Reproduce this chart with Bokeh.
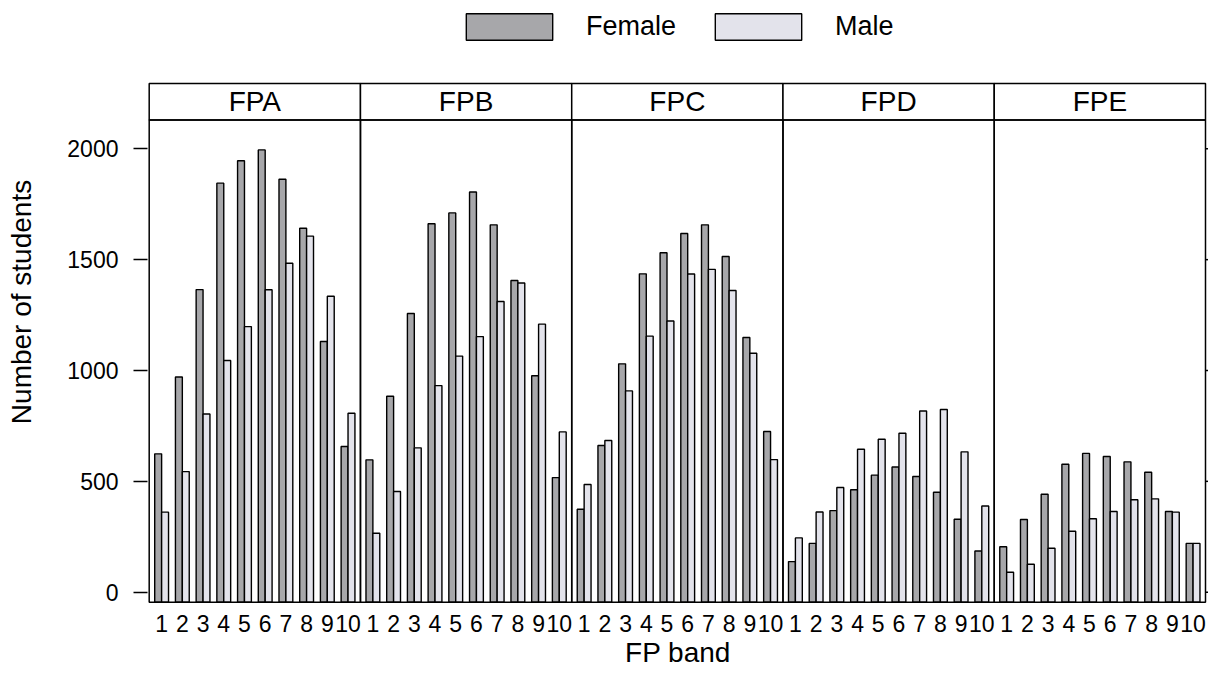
from bokeh.plotting import figure
from bokeh.models import ColumnDataSource, FixedTicker, Legend, LegendItem, Range1d
from bokeh.embed import file_html
from bokeh.resources import INLINE
from bokeh.core.properties import value

# ---------------- data ----------------
panels = ["FPA", "FPB", "FPC", "FPD", "FPE"]
bands = [1, 2, 3, 4, 5, 6, 7, 8, 9, 10]
band_labels = ["1", "2", "3", "4", "5", "6", "7", "8", "9", "10"]

female_fpa = [624, 971, 1365, 1845, 1946, 1995, 1863, 1642, 1131, 657]
male_fpa = [361, 544, 804, 1045, 1198, 1364, 1484, 1606, 1335, 807]
female_fpb = [597, 884, 1257, 1662, 1711, 1805, 1657, 1406, 976, 517]
male_fpb = [266, 454, 651, 932, 1065, 1153, 1311, 1395, 1209, 723]
female_fpc = [374, 662, 1030, 1436, 1531, 1618, 1657, 1514, 1149, 725]
male_fpc = [486, 684, 908, 1155, 1223, 1435, 1456, 1361, 1078, 598]
female_fpd = [138, 220, 368, 462, 528, 565, 522, 451, 329, 186]
male_fpd = [245, 362, 472, 645, 690, 717, 817, 824, 633, 389]
female_fpe = [205, 328, 442, 577, 626, 612, 588, 541, 364, 220]
male_fpe = [90, 126, 198, 275, 331, 364, 417, 421, 361, 220]

y_ticks = [0, 500, 1000, 1500, 2000]

female_by_panel = [female_fpa, female_fpb, female_fpc, female_fpd, female_fpe]
male_by_panel = [male_fpa, male_fpb, male_fpc, male_fpd, male_fpe]

# ---------------- layout constants ----------------
FONT = "Liberation Sans"
PANEL_PAD = 0.6                      # lattice factor padding
PANEL_W = len(bands) - 1 + 2 * PANEL_PAD
X_LO = 1 - PANEL_PAD - 0.082
X_PANELS_HI = 1 - PANEL_PAD + PANEL_W * len(panels)
X_HI = X_PANELS_HI + 0.145
Y_LO = -51.0
Y_PANEL_LO = -45.0
Y_STRIP_LO = 2130.0
Y_STRIP_HI = 2294.5
Y_HI = 2669.0
BAR_W = 1.0 / 3.0
F_COL = "#A7A7AA"
M_COL = "#E3E3EB"

# ---------------- build sources ----------------
fx, ftop, mx, mtop = [], [], [], []
xticks, overrides = [], {}
for k, name in enumerate(panels):
    off = k * PANEL_W
    for i, b in enumerate(bands):
        c = round(off + b, 6)
        xticks.append(c)
        overrides[c] = band_labels[i]
        fx.append(c - BAR_W / 2)
        ftop.append(female_by_panel[k][i])
        mx.append(c + BAR_W / 2)
        mtop.append(male_by_panel[k][i])

src_f = ColumnDataSource(dict(x=fx, top=ftop))
src_m = ColumnDataSource(dict(x=mx, top=mtop))

p = figure(width=1208, height=688, output_backend="svg", toolbar_location=None,
           x_range=Range1d(X_LO, X_HI), y_range=Range1d(Y_LO, Y_HI),
           min_border_left=147, min_border_right=0, min_border_top=0,
           min_border_bottom=85)
p.grid.visible = False
p.outline_line_color = None
p.background_fill_color = "white"
p.border_fill_color = "white"

# panels and strips
pan_left = [k * PANEL_W + 1 - PANEL_PAD for k in range(len(panels))]
pan_right = [l + PANEL_W for l in pan_left]
pan_mid = [(l + r) / 2 for l, r in zip(pan_left, pan_right)]
p.quad(left=pan_left, right=pan_right, bottom=Y_STRIP_LO, top=Y_STRIP_HI,
       fill_color="white", line_color="black", line_width=1.5)
p.text(x=pan_mid, y=[(Y_STRIP_LO + Y_STRIP_HI) / 2] * len(panels), text=panels,
       text_font=value(FONT), text_font_size="28px", text_align="center",
       text_baseline="middle", text_color="black")

rf = p.vbar(x="x", top="top", bottom=Y_PANEL_LO, width=BAR_W, source=src_f,
            fill_color=F_COL, line_color="black", line_width=1.4)
rm = p.vbar(x="x", top="top", bottom=Y_PANEL_LO, width=BAR_W, source=src_m,
            fill_color=M_COL, line_color="black", line_width=1.4)

p.quad(left=pan_left, right=pan_right, bottom=Y_PANEL_LO, top=Y_STRIP_LO,
       fill_color=None, line_color="black", line_width=1.5)

# right-hand tick marks (lattice draws unlabelled ticks on the right side)
p.segment(x0=[X_PANELS_HI] * len(y_ticks), x1=[X_HI] * len(y_ticks),
          y0=y_ticks, y1=y_ticks, line_color="black", line_width=1.5)

# axes
ya = p.yaxis[0]
ya.ticker = FixedTicker(ticks=y_ticks)
ya.axis_line_color = None
ya.major_tick_out = 14
ya.major_tick_in = 0
ya.major_tick_line_width = 1.5
ya.minor_tick_line_color = None
ya.major_label_standoff = 15
ya.major_label_text_font = FONT
ya.major_label_text_font_size = "23px"
ya.major_label_text_color = "black"
ya.axis_label = "Number of students"
ya.axis_label_text_font = FONT
ya.axis_label_text_font_size = "28px"
ya.axis_label_text_font_style = "normal"
ya.axis_label_text_color = "black"
ya.axis_label_standoff = 27

xa = p.xaxis[0]
xa.ticker = FixedTicker(ticks=xticks)
xa.major_label_overrides = overrides
xa.axis_line_color = None
xa.major_tick_out = 0
xa.major_tick_in = 0
xa.minor_tick_line_color = None
xa.major_label_standoff = 11
xa.major_label_text_font = FONT
xa.major_label_text_font_size = "23px"
xa.major_label_text_color = "black"
xa.axis_label = "FP band"
xa.axis_label_text_font = FONT
xa.axis_label_text_font_size = "28px"
xa.axis_label_text_font_style = "normal"
xa.axis_label_text_color = "black"
xa.axis_label_standoff = 2

legend = Legend(items=[LegendItem(label="Female", renderers=[rf]),
                       LegendItem(label="Male", renderers=[rm])],
                orientation="horizontal", location=(308, 560),
                glyph_width=108, glyph_height=33, label_height=33,
                label_standoff=23, spacing=28, padding=0, margin=0,
                border_line_color=None, background_fill_alpha=0,
                label_text_font=FONT, label_text_font_size="27px",
                label_text_color="black")
p.add_layout(legend, "center")

open("out.html", "w").write(file_html(p, INLINE))
